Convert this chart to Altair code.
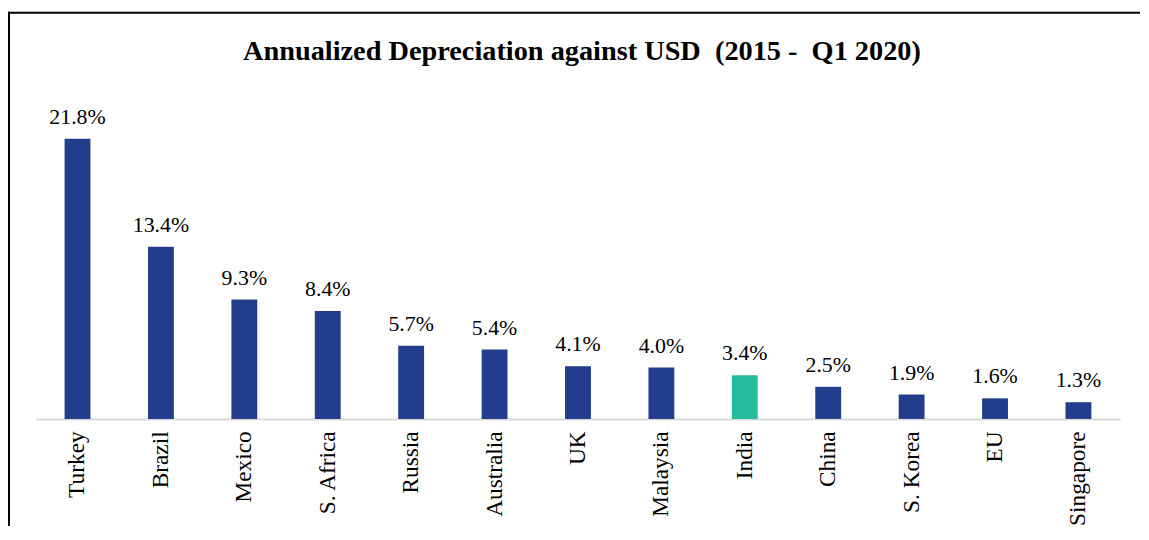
import altair as alt
import pandas as pd

countries = ["Turkey", "Brazil", "Mexico", "S. Africa", "Russia", "Australia", "UK",
             "Malaysia", "India", "China", "S. Korea", "EU", "Singapore"]
depreciation = [21.8, 13.4, 9.3, 8.4, 5.7, 5.4, 4.1, 4.0, 3.4, 2.5, 1.9, 1.6, 1.3]
highlight = "India"
title_text = ["Annualized Depreciation against USD\u00a0 (2015 -\u00a0 Q1 2020)"]

df = pd.DataFrame({"country": countries, "value": depreciation})

FONT = "Liberation Serif"
NAVY = "#213D8B"
TEAL = "#24BD9D"

W, H = 1092, 323.5

x_enc = alt.X("country:N", sort=countries,
              scale=alt.Scale(paddingInner=0.69, paddingOuter=0.345),
              axis=alt.Axis(title=None, labelAngle=-90, labelFont=FONT, labelFontSize=23.5,
                            labelColor="black", labelPadding=12, ticks=False,
                            domainColor="#D9D9D9", domainWidth=2))
y_enc = alt.Y("value:Q", scale=alt.Scale(domain=[0, 25], nice=False), axis=None)

base = alt.Chart(df)

bars = base.mark_bar().encode(
    x=x_enc, y=y_enc,
    color=alt.condition(alt.datum.country == highlight, alt.value(TEAL), alt.value(NAVY)),
)

labels = base.transform_calculate(
    label="format(datum.value, '.1f') + '%'"
).mark_text(font=FONT, fontSize=22, dy=-15, baseline="alphabetic", color="black").encode(
    x=alt.X("country:N", sort=countries), y="value:Q", text="label:N",
)

title = alt.Chart(pd.DataFrame({"t": title_text})).mark_text(
    font=FONT, fontSize=28.5, fontWeight="bold", color="black", baseline="alphabetic", align="center"
).encode(text="t:N", x=alt.value(W / 2 + 4), y=alt.value(-38))

one = pd.DataFrame({"a": [0]})
top_line = alt.Chart(one).mark_rule(color="black", strokeWidth=2, clip=False).encode(
    x=alt.value(-28), x2=alt.value(W + 20), y=alt.value(-85.5))
left_line = alt.Chart(one).mark_rule(color="black", strokeWidth=2, clip=False).encode(
    x=alt.value(-27), y=alt.value(-86.5), y2=alt.value(H + 300))

chart = alt.layer(bars, labels, title, top_line, left_line).properties(
    width=W, height=H,
    autosize=alt.AutoSizeParams(type="none"),
    padding={"left": 28, "top": 88.5, "right": 21, "bottom": 106},
).configure_view(stroke=None)

chart.save("out.html", embed_options={"renderer": "svg", "actions": False})
